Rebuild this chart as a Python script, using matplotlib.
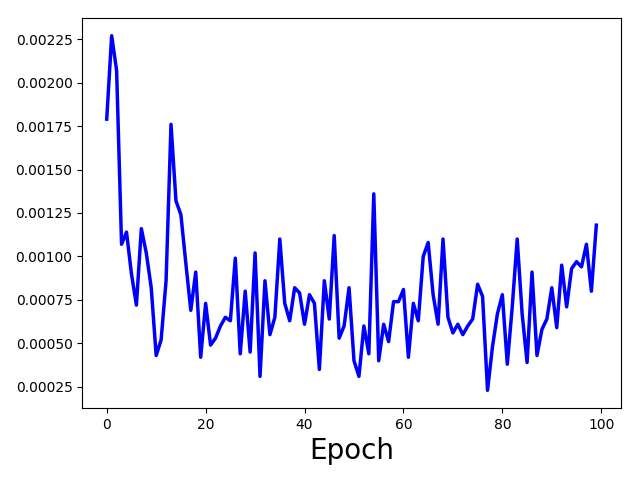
import numpy as np
import matplotlib
matplotlib.use("Agg")
from matplotlib import pyplot as plt

# loss per epoch
loss_0_24 = [0.00179, 0.00227, 0.00207, 0.00107, 0.00114, 0.00090, 0.00072, 0.00116, 0.00102, 0.00082,
             0.00043, 0.00052, 0.00086, 0.00176, 0.00132, 0.00124, 0.00096, 0.00069, 0.00091, 0.00042,
             0.00073, 0.00049, 0.00053, 0.00060, 0.00065]
loss_25_49 = [0.00063, 0.00099, 0.00044, 0.00080, 0.00045, 0.00102, 0.00031, 0.00086, 0.00055, 0.00065,
              0.00110, 0.00073, 0.00063, 0.00082, 0.00079, 0.00061, 0.00078, 0.00073, 0.00035, 0.00086,
              0.00064, 0.00112, 0.00053, 0.00060, 0.00082]
loss_50_74 = [0.00040, 0.00031, 0.00060, 0.00044, 0.00136, 0.00040, 0.00061, 0.00051, 0.00074, 0.00074,
              0.00081, 0.00042, 0.00073, 0.00063, 0.00100, 0.00108, 0.00078, 0.00061, 0.00110, 0.00065,
              0.00056, 0.00061, 0.00055, 0.00060, 0.00064]
loss_75_99 = [0.00084, 0.00077, 0.00023, 0.00048, 0.00067, 0.00078, 0.00038, 0.00071, 0.00110, 0.00067,
              0.00039, 0.00091, 0.00043, 0.00058, 0.00064, 0.00082, 0.00059, 0.00095, 0.00071, 0.00093,
              0.00097, 0.00094, 0.00107, 0.00080, 0.00118]

loss = loss_0_24 + loss_25_49 + loss_50_74 + loss_75_99
epochs = np.arange(len(loss))

plt.figure(figsize=(6.4, 4.8), dpi=100)
plt.plot(epochs, loss, color='b', linewidth=2.5)
plt.xlabel('Epoch', fontsize=20)
plt.subplots_adjust(left=0.1285, right=0.970, top=0.9625, bottom=0.15)
plt.savefig('out.png')
